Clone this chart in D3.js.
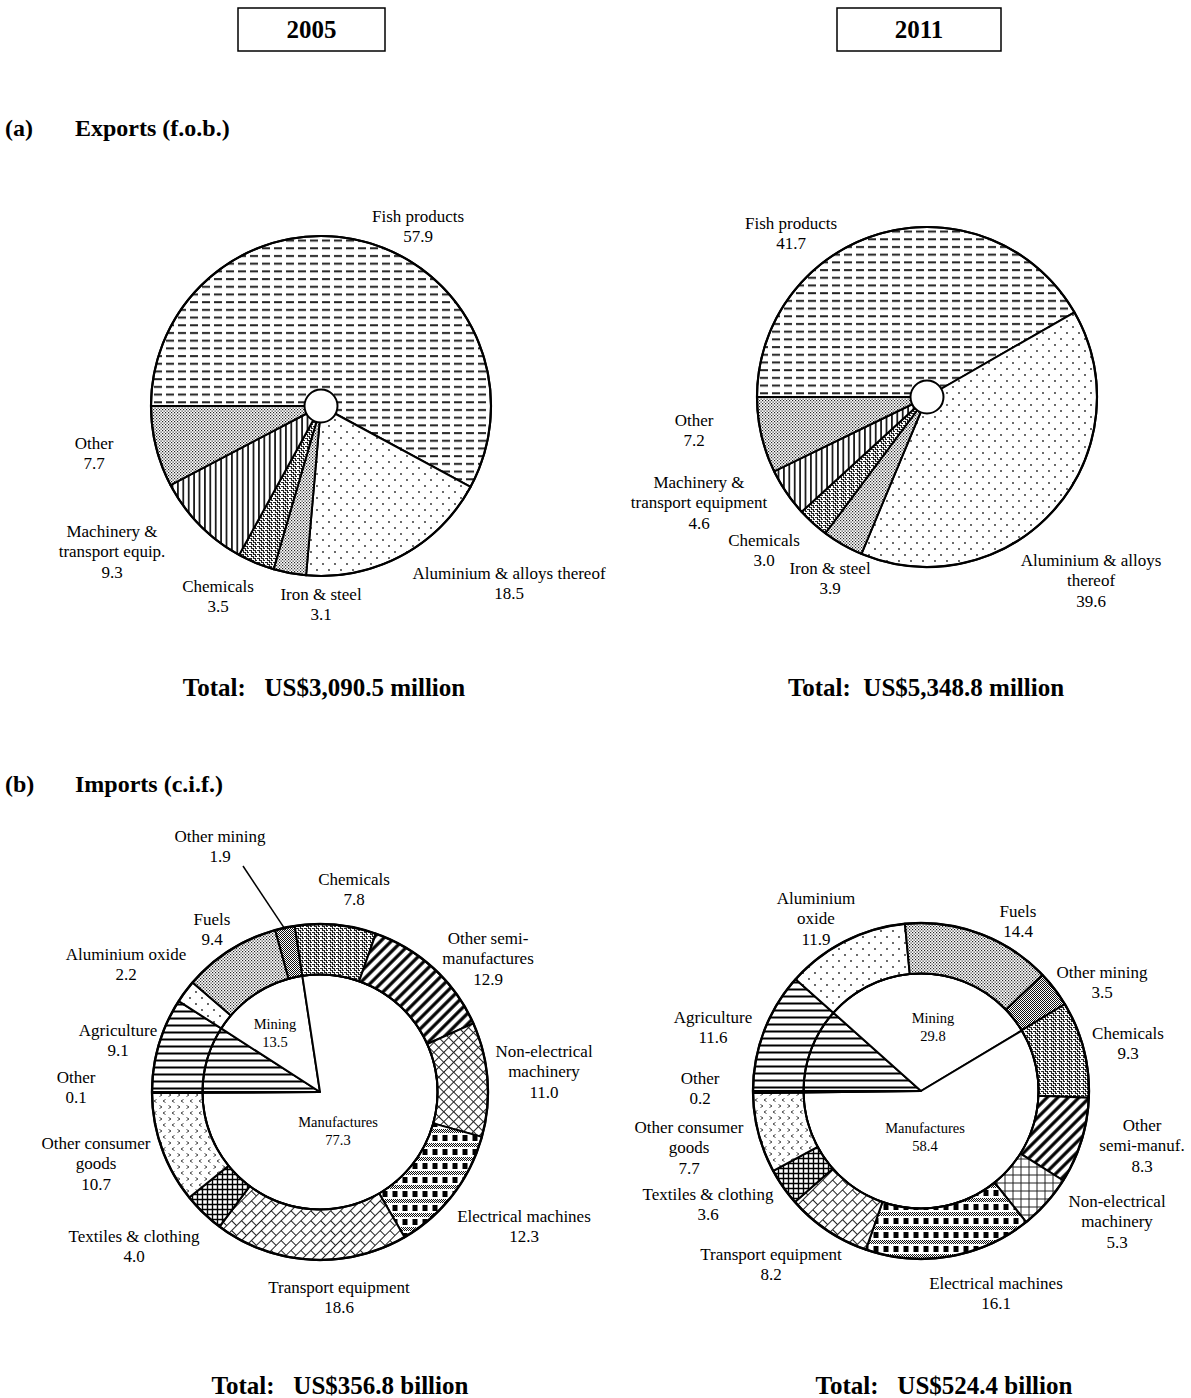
<!DOCTYPE html>
<html><head><meta charset="utf-8">
<script src="https://cdn.jsdelivr.net/npm/d3@7"></script>
<style>
body{margin:0;background:#fff}
svg{display:block}
text{font-family:"Liberation Serif","Times New Roman",serif;fill:#000}
</style>
</head><body><script>
// ---------------- DATA ----------------
const years = ["2005", "2011"];
const exportCategories = ["Fish products","Aluminium & alloys thereof","Iron & steel","Chemicals","Machinery & transport equipment","Other"];
const exportValues2005 = [57.9, 18.5, 3.1, 3.5, 9.3, 7.7];
const exportValues2011 = [41.7, 39.6, 3.9, 3.0, 4.6, 7.2];
const exportLabels2005 = [["Fish products"],["Aluminium & alloys thereof"],["Iron & steel"],["Chemicals"],["Machinery &","transport equip."],["Other"]];
const exportLabels2011 = [["Fish products"],["Aluminium & alloys","thereof"],["Iron & steel"],["Chemicals"],["Machinery &","transport equipment"],["Other"]];

const importCategories = ["Agriculture","Aluminium oxide","Fuels","Other mining","Chemicals","Other semi-manufactures","Non-electrical machinery","Electrical machines","Transport equipment","Textiles & clothing","Other consumer goods","Other"];
const importValues2005 = [9.1, 2.2, 9.4, 1.9, 7.8, 12.9, 11.0, 12.3, 18.6, 4.0, 10.7, 0.1];
const importValues2011 = [11.6, 11.9, 14.4, 3.5, 9.3, 8.3, 5.3, 16.1, 8.2, 3.6, 7.7, 0.2];
const importLabels2005 = [["Agriculture"],["Aluminium oxide"],["Fuels"],["Other mining"],["Chemicals"],["Other semi-","manufactures"],["Non-electrical","machinery"],["Electrical machines"],["Transport equipment"],["Textiles & clothing"],["Other consumer","goods"],["Other"]];
const importLabels2011 = [["Agriculture"],["Aluminium","oxide"],["Fuels"],["Other mining"],["Chemicals"],["Other","semi-manuf."],["Non-electrical","machinery"],["Electrical machines"],["Transport equipment"],["Textiles & clothing"],["Other consumer","goods"],["Other"]];

const importGroups = ["Agriculture","Mining","Manufactures","Other"];
const groupValues2005 = [9.1, 13.5, 77.3, 0.1];
const groupValues2011 = [11.6, 29.8, 58.4, 0.2];

const exportTotals = ["Total:   US$3,090.5 million", "Total:  US$5,348.8 million"];
const importTotals = ["Total:   US$356.8 billion", "Total:   US$524.4 billion"];
const sectionTitles = [["(a)", "Exports (f.o.b.)"], ["(b)", "Imports (c.i.f.)"]];

// ---------------- STYLE / LAYOUT ----------------
const W = 1191, H = 1398;
const exportPatterns = ["dashes","sparseDots","fineDots","weave","vlines","fineDots"];
const importPatterns2005 = ["hlines","sparseDots","fineDots","darkDots","weave","wideDiag","diagCross","plaid","diagBrick","smallGrid","chevrons","black"];
const importPatterns2011 = ["hlines","sparseDots","fineDots","darkDots","weave","wideDiag","grid","plaid","diagBrick","smallGrid","chevrons","black"];
const groupPatterns = ["hlines","white","white","black"];

// label offsets relative to the chart centre (first line centre)
const expLayout2005 = [[97,-190],[188,167],[0,188],[-103,180],[-209,125],[-227,37]];
const expLayout2011 = [[-136,-174],[164,163],[-97,171],[-163,143],[-228,85],[-233,23]];
const impLayout2005 = [[-202,-62],[-194,-138],[-108,-173],[-100,-256],[34,-213],[168,-154],[224,-41],[204,124],[19,195],[-186,144],[-224,51],[-244,-15]];
const impLayout2011 = [[-208,-74],[-105,-193],[97,-180],[181,-119],[207,-58],[221,34],[196,110],[75,192],[-150,163],[-213,103],[-232,36],[-221,-13]];
const grpLayout2005 = [null,[-45,-68],[18,30],null];
const grpLayout2011 = [null,[12,-73],[4,37],null];

const fmt = d3.format(".1f");
const LABEL_FS = 17, LABEL_LH = 20.5, INNER_FS = 14.5, INNER_LH = 18;

const svg = d3.select("body").append("svg").attr("width", W).attr("height", H);
svg.append("rect").attr("width", W).attr("height", H).attr("fill", "#fff");

// ---------------- PATTERNS ----------------
const defs = svg.append("defs");
function mkPat(id, w, h, tf) {
  const p = defs.append("pattern").attr("id", id).attr("patternUnits", "userSpaceOnUse")
    .attr("width", w).attr("height", h);
  if (tf) p.attr("patternTransform", tf);
  p.append("rect").attr("width", w).attr("height", h).attr("fill", "#fff");
  return p;
}
let p;
p = mkPat("dashes", 12, 7.7);
p.append("rect").attr("x", 1).attr("y", 3).attr("width", 8).attr("height", 2).attr("fill", "#222");

p = mkPat("sparseDots", 12, 12);
p.append("circle").attr("cx", 2).attr("cy", 2).attr("r", 0.9).attr("fill", "#222");
p.append("circle").attr("cx", 8).attr("cy", 8).attr("r", 0.9).attr("fill", "#222");

p = mkPat("fineDots", 3, 3);
p.append("rect").attr("x", 0).attr("y", 0).attr("width", 1.2).attr("height", 1.2).attr("fill", "#222");
p.append("rect").attr("x", 1.5).attr("y", 1.5).attr("width", 1.2).attr("height", 1.2).attr("fill", "#222");

p = mkPat("darkDots", 2, 2);
p.append("rect").attr("x", 0).attr("y", 0).attr("width", 1).attr("height", 1).attr("fill", "#111");
p.append("rect").attr("x", 1).attr("y", 1).attr("width", 1).attr("height", 1).attr("fill", "#111");

p = mkPat("weave", 8, 8);
p.append("path").attr("d", "M0,0.5H2.5V2.5H4.5V4.5H6.5V6.5H8.5M4,0.5H6.5V2.5H8.5M0,4.5H2.5V6.5H4.5V8.5")
  .attr("fill", "none").attr("stroke", "#222").attr("stroke-width", 1.1);

p = mkPat("vlines", 5.4, 10);
p.append("line").attr("x1", 2.7).attr("x2", 2.7).attr("y1", 0).attr("y2", 10).attr("stroke", "#000").attr("stroke-width", 1.6);

p = mkPat("hlines", 10, 7);
p.append("line").attr("x1", 0).attr("x2", 10).attr("y1", 3.5).attr("y2", 3.5).attr("stroke", "#000").attr("stroke-width", 2);

p = mkPat("wideDiag", 7.5, 10, "rotate(45)");
p.append("line").attr("x1", 3.75).attr("x2", 3.75).attr("y1", 0).attr("y2", 10).attr("stroke", "#000").attr("stroke-width", 3.2);

p = mkPat("diagCross", 7, 7, "rotate(45)");
p.append("path").attr("d", "M0,3.5H7M3.5,0V7").attr("stroke", "#222").attr("stroke-width", 1);

p = mkPat("grid", 8, 8);
p.append("path").attr("d", "M0,4H8M4,0V8").attr("stroke", "#222").attr("stroke-width", 1);

p = mkPat("plaid", 10, 14);
p.append("rect").attr("x", 2.5).attr("y", 1).attr("width", 5).attr("height", 6).attr("fill", "#000");
p.append("rect").attr("x", 0).attr("y", 9).attr("width", 10).attr("height", 4).attr("fill", "url(#darkDots)");

p = mkPat("diagBrick", 14, 14, "rotate(-45)");
p.append("path").attr("d", "M0,0.5H14M0,7.5H14M0.5,0.5V7.5M7.5,7.5V14")
  .attr("stroke", "#222").attr("stroke-width", 1);

p = mkPat("smallGrid", 5, 5);
p.append("path").attr("d", "M0,2.5H5M2.5,0V5").attr("stroke", "#000").attr("stroke-width", 1.4);

p = mkPat("chevrons", 9, 12);
p.append("path").attr("d", "M1.5,1.5L4,3L1.5,4.5M7.5,7.5L5,9L7.5,10.5")
  .attr("fill", "none").attr("stroke", "#444").attr("stroke-width", 1);

const fillFor = k => k === "white" ? "#fff" : k === "black" ? "#000" : `url(#${k})`;

// ---------------- HELPERS ----------------
function labelBlock(g, lines, x, y, fs, lh) {
  lines.forEach((t, i) => {
    g.append("text").attr("x", x).attr("y", y + i * lh).attr("dy", "0.35em")
      .attr("text-anchor", "middle").attr("font-size", fs).text(t);
  });
}
const pie = d3.pie().sort(null).startAngle(-Math.PI / 2).endAngle(1.5 * Math.PI).value(d => d);

function exportPie(cx, cy, values, labels, layout) {
  const g = svg.append("g").attr("transform", `translate(${cx},${cy})`);
  const r = 170;
  const arc = d3.arc().innerRadius(0).outerRadius(r);
  g.selectAll("path.slice").data(pie(values)).join("path").attr("class", "slice")
    .attr("d", arc).attr("fill", (d, i) => fillFor(exportPatterns[i]))
    .attr("stroke", "#000").attr("stroke-width", 2).attr("stroke-linejoin", "round");
  g.append("circle").attr("r", r).attr("fill", "none").attr("stroke", "#000").attr("stroke-width", 2.2);
  g.append("circle").attr("r", 16.5).attr("fill", "#fff").attr("stroke", "#000").attr("stroke-width", 2);
  values.forEach((v, i) => {
    labelBlock(g, labels[i].concat([fmt(v)]), layout[i][0], layout[i][1], LABEL_FS, LABEL_LH);
  });
}

function importDonut(cx, cy, values, groups, labels, patterns, layout, glayout, leaderIdx) {
  const g = svg.append("g").attr("transform", `translate(${cx},${cy})`);
  const rOut = 168, rIn = 117.5;
  const inner = d3.arc().innerRadius(0).outerRadius(rIn);
  const ring = d3.arc().innerRadius(rIn).outerRadius(rOut);
  g.selectAll("path.grp").data(pie(groups)).join("path").attr("class", "grp")
    .attr("d", inner).attr("fill", (d, i) => fillFor(groupPatterns[i]))
    .attr("stroke", "#000").attr("stroke-width", 2).attr("stroke-linejoin", "round");
  const arcs = pie(values);
  g.selectAll("path.seg").data(arcs).join("path").attr("class", "seg")
    .attr("d", ring).attr("fill", (d, i) => fillFor(patterns[i]))
    .attr("stroke", "#000").attr("stroke-width", 2).attr("stroke-linejoin", "round");
  g.append("circle").attr("r", rOut).attr("fill", "none").attr("stroke", "#000").attr("stroke-width", 2.4);
  g.append("circle").attr("r", rIn).attr("fill", "none").attr("stroke", "#000").attr("stroke-width", 2);
  values.forEach((v, i) => {
    labelBlock(g, labels[i].concat([fmt(v)]), layout[i][0], layout[i][1], LABEL_FS, LABEL_LH);
  });
  groups.forEach((v, i) => {
    if (!glayout[i]) return;
    labelBlock(g, [importGroups[i], fmt(v)], glayout[i][0], glayout[i][1], INNER_FS, INNER_LH);
  });
  if (leaderIdx != null) {
    const a = arcs[leaderIdx];
    const mid = (a.startAngle + a.endAngle) / 2;
    const [lx, ly] = layout[leaderIdx];
    g.append("line")
      .attr("x1", lx + 23).attr("y1", ly + 30)
      .attr("x2", Math.sin(mid) * (rOut - 2)).attr("y2", -Math.cos(mid) * (rOut - 2))
      .attr("stroke", "#000").attr("stroke-width", 1.5);
  }
}

// ---------------- TITLES ----------------
const yearBoxes = [[238, 8, 147, 43], [837, 8, 164, 43]];
years.forEach((y, i) => {
  const [x0, y0, w, h] = yearBoxes[i];
  svg.append("rect").attr("x", x0).attr("y", y0).attr("width", w).attr("height", h)
    .attr("fill", "#fff").attr("stroke", "#000").attr("stroke-width", 1.5);
  svg.append("text").attr("x", x0 + w / 2).attr("y", y0 + h / 2).attr("dy", "0.35em")
    .attr("text-anchor", "middle").attr("font-size", 25).attr("font-weight", "bold").text(y);
});
const sectionY = [128, 784];
sectionTitles.forEach((t, i) => {
  svg.append("text").attr("x", 5).attr("y", sectionY[i]).attr("dy", "0.35em")
    .attr("font-size", 24).attr("font-weight", "bold").text(t[0]);
  svg.append("text").attr("x", 75).attr("y", sectionY[i]).attr("dy", "0.35em")
    .attr("font-size", 24).attr("font-weight", "bold").text(t[1]);
});

// ---------------- CHARTS ----------------
exportPie(321, 406, exportValues2005, exportLabels2005, expLayout2005);
exportPie(927, 397, exportValues2011, exportLabels2011, expLayout2011);
importDonut(320, 1092, importValues2005, groupValues2005, importLabels2005, importPatterns2005, impLayout2005, grpLayout2005, 3);
importDonut(921, 1091, importValues2011, groupValues2011, importLabels2011, importPatterns2011, impLayout2011, grpLayout2011, null);

const totalPos = [[[324, 687], [926, 687]], [[340, 1385], [944, 1385]]];
[exportTotals, importTotals].forEach((arr, s) => {
  arr.forEach((t, i) => {
    svg.append("text").attr("x", totalPos[s][i][0]).attr("y", totalPos[s][i][1]).attr("dy", "0.35em")
      .attr("text-anchor", "middle").attr("font-size", 25).attr("font-weight", "bold")
      .style("white-space", "pre").text(t);
  });
});
</script></body></html>
